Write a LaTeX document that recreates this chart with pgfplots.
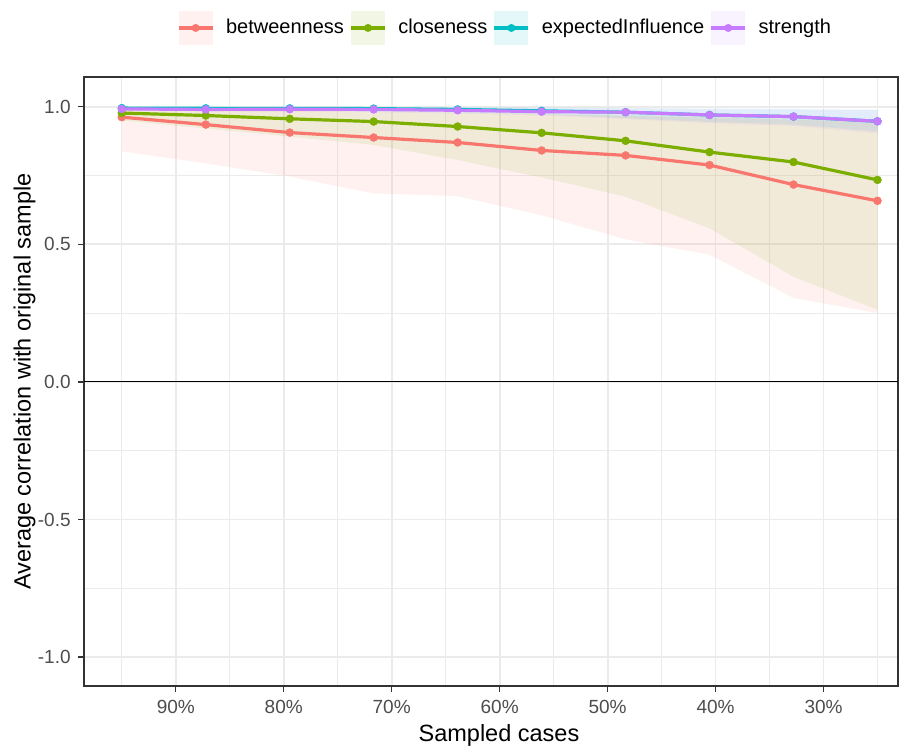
\documentclass[border=0pt]{standalone}
\usepackage{fontspec}
\setmainfont{Liberation Sans}
\usepackage{pgfplots}
\usepackage{pgfplotstable}
\usepgfplotslibrary{fillbetween}
\pgfplotsset{compat=1.18}
\definecolor{cb}{HTML}{F8766D}
\definecolor{cc}{HTML}{7CAE00}
\definecolor{ce}{HTML}{00BFC4}
\definecolor{cs}{HTML}{C77CFF}
\definecolor{gridc}{HTML}{EBEBEB}
\definecolor{gtw}{HTML}{333333}
\definecolor{gth}{HTML}{4D4D4D}

\pgfplotstableread{
x     mean  lo    hi
95    0.962 0.838 0.990
87.22 0.935 0.794 0.990
79.44 0.906 0.746 0.986
71.67 0.888 0.685 0.982
63.89 0.870 0.675 0.978
56.11 0.841 0.605 0.972
48.33 0.823 0.518 0.966
40.56 0.788 0.462 0.960
32.78 0.717 0.305 0.952
25    0.658 0.250 0.946
}\tabbtw

\pgfplotstableread{
x     mean  lo    hi
95    0.977 0.950 0.992
87.22 0.968 0.921 0.991
79.44 0.956 0.891 0.989
71.67 0.946 0.861 0.986
63.89 0.928 0.806 0.982
56.11 0.905 0.743 0.977
48.33 0.876 0.673 0.971
40.56 0.835 0.558 0.965
32.78 0.799 0.382 0.956
25    0.734 0.262 0.946
}\tabclo

\pgfplotstableread{
x     mean  lo    hi
95    0.995 0.990 0.999
87.22 0.994 0.988 0.999
79.44 0.994 0.986 0.999
71.67 0.993 0.984 0.999
63.89 0.990 0.979 0.998
56.11 0.985 0.972 0.997
48.33 0.980 0.958 0.995
40.56 0.970 0.945 0.993
32.78 0.964 0.935 0.991
25    0.947 0.910 0.989
}\tabei

\pgfplotstableread{
x     mean  lo    hi
95    0.992 0.985 0.998
87.22 0.990 0.983 0.998
79.44 0.991 0.982 0.998
71.67 0.990 0.980 0.998
63.89 0.987 0.975 0.997
56.11 0.982 0.968 0.996
48.33 0.980 0.955 0.994
40.56 0.970 0.940 0.992
32.78 0.964 0.930 0.990
25    0.947 0.903 0.988
}\tabstr

\pgfplotsset{
  mykey/.style={legend image code/.code={
      \path[fill=#1, fill opacity=0.1, draw=none] (0pt,-8.5pt) rectangle (17pt,8.5pt);
      \path[draw=#1, line width=1.6pt] (0pt,0pt) -- (17pt,0pt);
      \path[fill=#1, draw=none] (8.5pt,0pt) circle (2pt);
  }},
  serie/.style={#1, line width=1.6pt, mark=*, mark size=2pt,
     mark options={solid, line width=0.2pt, fill=#1, draw=#1}, forget plot},
}

\begin{document}
\begin{tikzpicture}
\begin{axis}[
  scale only axis, width=407pt, height=304.5pt,
  x dir=reverse, xmin=23.1, xmax=98.5, ymin=-1.105, ymax=1.108,
  xtick={30,40,50,60,70,80,90},
  xticklabels={30\%,40\%,50\%,60\%,70\%,80\%,90\%},
  minor xtick={25,35,45,55,65,75,85,95},
  ytick={-1,-0.5,0,0.5,1},
  yticklabels={-1.0,-0.5,0.0,0.5,1.0},
  minor ytick={-0.75,-0.25,0.25,0.75},
  grid=both,
  major grid style={gridc, line width=0.9pt},
  minor grid style={gridc, line width=0.5pt},
  axis line style={gtw, line width=0.6pt},
  tick align=outside, tick pos=left,
  major tick length=3pt, minor tick length=0pt,
  tick style={gtw, line width=0.6pt},
  ticklabel style={font=\fontsize{9.5}{11}\selectfont, text=gth},
  xticklabel style={inner sep=0pt, anchor=north, yshift=-4pt},
  yticklabel style={inner sep=0pt, anchor=east, xshift=-3.5pt},
  xlabel={Sampled cases},
  ylabel={Average correlation with original sample},
  label style={font=\fontsize{11.75}{14}\selectfont},
  xlabel style={at={(axis description cs:0.5098,-0.09113)}, anchor=base},
  ylabel style={at={(axis description cs:-0.06572,0.5)}, anchor=base},
  legend style={at={(axis description cs:0.5184,1.0805)}, anchor=center,
     draw=none, fill=none, legend columns=4, inner sep=0pt,
     font=\fontsize{10}{12}\selectfont,
     /tikz/every odd column/.append style={column sep=3.9pt},
     /tikz/every even column/.append style={column sep=0.75pt}},
  legend cell align=left,
]
\addlegendimage{mykey=cb}\addlegendentry{betweenness}
\addlegendimage{mykey=cc}\addlegendentry{closeness}
\addlegendimage{mykey=ce}\addlegendentry{expectedInfluence}
\addlegendimage{mykey=cs}\addlegendentry{strength}

\addplot[black, line width=0.55pt, forget plot] coordinates {(23.1,0) (98.5,0)};

\addplot[name path=bhi, draw=none, forget plot] table[x=x,y=hi]{\tabbtw};
\addplot[name path=blo, draw=none, forget plot] table[x=x,y=lo]{\tabbtw};
\addplot[fill=cb, fill opacity=0.1, draw=none, forget plot] fill between[of=bhi and blo];

\addplot[name path=chi, draw=none, forget plot] table[x=x,y=hi]{\tabclo};
\addplot[name path=clo, draw=none, forget plot] table[x=x,y=lo]{\tabclo};
\addplot[fill=cc, fill opacity=0.1, draw=none, forget plot] fill between[of=chi and clo];

\addplot[name path=ehi, draw=none, forget plot] table[x=x,y=hi]{\tabei};
\addplot[name path=elo, draw=none, forget plot] table[x=x,y=lo]{\tabei};
\addplot[fill=ce, fill opacity=0.1, draw=none, forget plot] fill between[of=ehi and elo];

\addplot[name path=shi, draw=none, forget plot] table[x=x,y=hi]{\tabstr};
\addplot[name path=slo, draw=none, forget plot] table[x=x,y=lo]{\tabstr};
\addplot[fill=cs, fill opacity=0.1, draw=none, forget plot] fill between[of=shi and slo];

\addplot[serie=cb] table[x=x,y=mean]{\tabbtw};
\addplot[serie=cc] table[x=x,y=mean]{\tabclo};
\addplot[serie=ce] table[x=x,y=mean]{\tabei};
\addplot[serie=cs] table[x=x,y=mean]{\tabstr};
\end{axis}
\pgfresetboundingbox
\path[use as bounding box] (-42pt,-30.5pt) rectangle (407.5pt,343pt);
\end{tikzpicture}
\end{document}
